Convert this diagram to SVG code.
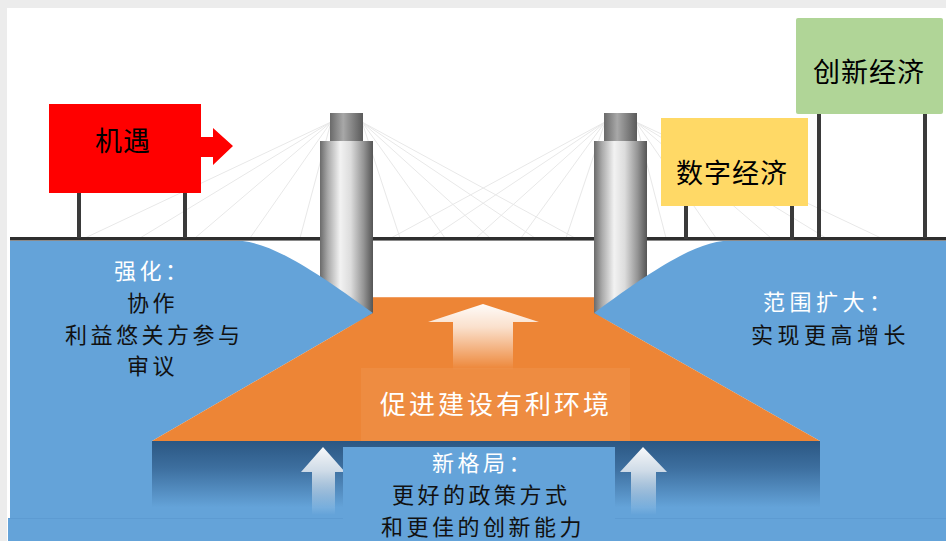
<svg xmlns="http://www.w3.org/2000/svg" width="946" height="541" viewBox="0 0 946 541">
  <style>
    .t { font-family: "Noto Sans CJK SC", "Noto Sans", sans-serif; dominant-baseline: central; }
    .sign { font-size: 27px; fill: #000; letter-spacing: 1px; }
    .lbl { font-size: 22px; letter-spacing: 3.5px; }
    .dark { fill: #111; }
    .light { fill: #fff; }
    .cable { stroke: #e8e8e8; stroke-width: 1; fill: none; }
    .post { fill: #3a3a3a; }
    .water { fill: #64a3d9; }
  </style>
  <defs>
    <linearGradient id="towerBody" x1="0" y1="0" x2="1" y2="0">
      <stop offset="0" stop-color="#6a6a6a"/>
      <stop offset="0.15" stop-color="#a9a9a9"/>
      <stop offset="0.38" stop-color="#f2f2f2"/>
      <stop offset="0.58" stop-color="#dcdcdc"/>
      <stop offset="0.82" stop-color="#959595"/>
      <stop offset="1" stop-color="#555"/>
    </linearGradient>
    <linearGradient id="towerCap" x1="0" y1="0" x2="1" y2="0">
      <stop offset="0" stop-color="#6a6a6a"/>
      <stop offset="0.4" stop-color="#a8a8a8"/>
      <stop offset="1" stop-color="#5a5a5a"/>
    </linearGradient>
    <linearGradient id="deepWater" x1="0" y1="0" x2="0" y2="1">
      <stop offset="0" stop-color="#2b5783"/>
      <stop offset="0.35" stop-color="#3d6f9f"/>
      <stop offset="0.85" stop-color="#64a3d9"/>
      <stop offset="1" stop-color="#64a3d9"/>
    </linearGradient>
    <linearGradient id="arrowFade" x1="0" y1="0" x2="0" y2="1">
      <stop offset="0" stop-color="#fff" stop-opacity="0.97"/>
      <stop offset="0.35" stop-color="#fff" stop-opacity="0.75"/>
      <stop offset="1" stop-color="#fff" stop-opacity="0"/>
    </linearGradient>
  </defs>

  <!-- page -->
  <rect x="0" y="0" width="946" height="541" fill="#ececec"/>
  <rect x="7" y="8" width="939" height="533" fill="#fff"/>

  <!-- stay cables -->
  <g id="cables">
    <path class="cable" d="M331,122 L85,238 M331,122 L140,238 M331,122 L195,238 M331,122 L250,238 M331,122 L300,238"/>
    <path class="cable" d="M362,122 L400,238 M362,122 L445,238 M362,122 L490,238 M362,122 L535,238 M362,122 L575,238"/>
    <path class="cable" d="M605,122 L391,238 M605,122 L431,238 M605,122 L476,238 M605,122 L521,238 M605,122 L566,238"/>
    <path class="cable" d="M636,122 L666,238 M636,122 L716,238 M636,122 L771,238 M636,122 L826,238 M636,122 L881,238"/>
  </g>

  <!-- towers -->
  <g id="tower-left">
    <rect x="330" y="113" width="33" height="29" fill="url(#towerCap)"/>
    <rect x="320" y="141" width="53" height="190" fill="url(#towerBody)"/>
  </g>
  <g id="tower-right">
    <rect x="604" y="113" width="33" height="29" fill="url(#towerCap)"/>
    <rect x="594" y="141" width="53" height="190" fill="url(#towerBody)"/>
  </g>

  <!-- river banks and basin -->
  <g id="ground">
    <path class="water" d="M10,240 H230 C265,240 300,260 373,313 L152,441 V518 H10 Z"/>
    <path class="water" d="M946,240 H736 C701,240 666,260 594,313 L820,441 V518 H946 Z"/>
    <rect x="152" y="441" width="668" height="78" fill="url(#deepWater)"/>
    <rect x="8" y="518" width="938" height="23" fill="#64a3d9"/>
    <rect x="8" y="518" width="938" height="1" fill="#5d9bd2"/>
    <path d="M152,441 L373,313 V297 H594 V313 L820,441 Z" fill="#ed8536"/>
    <rect x="373" y="297" width="221" height="1" fill="#f4b183" opacity="0.6"/>
  </g>

  <!-- bridge deck -->
  <g id="deck">
    <rect x="10" y="237" width="936" height="3" fill="#2e2e2e"/>
    <rect x="10" y="240" width="936" height="1" fill="#8a8a8a"/>
  </g>
  <!-- tower shafts stay in front of the deck -->
  <g id="tower-fronts">
    <rect x="320" y="141" width="53" height="100" fill="url(#towerBody)"/>
    <rect x="594" y="141" width="53" height="100" fill="url(#towerBody)"/>
  </g>

  <!-- signs on posts -->
  <g id="sign-jiyu">
    <rect class="post" x="77" y="190" width="4" height="48"/>
    <rect class="post" x="183" y="190" width="4" height="48"/>
    <rect x="49" y="104" width="152" height="89" fill="#ff0000"/>
    <path d="M200,137 H213 V128 L233,146 L213,165 V157 H200 Z" fill="#ff0000"/>
    <text class="t sign" x="95" y="139">机遇</text>
  </g>
  <g id="sign-digital">
    <rect class="post" x="684" y="204" width="4" height="35"/>
    <rect class="post" x="790" y="204" width="4" height="36"/>
    <rect x="661" y="118" width="147" height="88" fill="#ffd966"/>
    <text class="t sign" x="676" y="171">数字经济</text>
  </g>
  <g id="sign-innovation">
    <rect class="post" x="817" y="112" width="4" height="126"/>
    <rect class="post" x="923" y="112" width="4" height="126"/>
    <rect x="796" y="18" width="147" height="96" rx="2" fill="#b0d597"/>
    <text class="t sign" x="813" y="70">创新经济</text>
  </g>

  <!-- upward arrows -->
  <g id="connectors">
    <path d="M483,304 L539,322 H513 V370 H453 V322 H428 Z" fill="url(#arrowFade)"/>
    <path d="M323,447 L345,472 H335 V515 H312 V472 H301 Z" fill="url(#arrowFade)"/>
    <path d="M643,447 L667,472 H656 V515 H631 V472 H620 Z" fill="url(#arrowFade)"/>
  </g>

  <!-- labels -->
  <g id="label-left">
    <text class="t lbl light" x="114" y="269">强化：</text>
    <text class="t lbl dark" x="127" y="301">协作</text>
    <text class="t lbl dark" x="65" y="333">利益悠关方参与</text>
    <text class="t lbl dark" x="127" y="364">审议</text>
  </g>
  <g id="label-right">
    <text class="t lbl light" x="763" y="300" style="letter-spacing:4.5px">范围扩大：</text>
    <text class="t lbl dark" x="751" y="333" style="letter-spacing:4.5px">实现更高增长</text>
  </g>
  <g id="label-center">
    <rect x="361" y="368" width="269" height="73" fill="#fff" opacity="0.06"/>
    <text class="t light" x="380" y="402" style="font-size:26px;letter-spacing:3px">促进建设有利环境</text>
  </g>
  <g id="label-bottom">
    <rect x="343" y="447" width="272" height="94" fill="#64a3d9"/>
    <text class="t lbl light" x="432" y="461">新格局：</text>
    <text class="t lbl dark" x="392" y="493">更好的政策方式</text>
    <text class="t lbl dark" x="381" y="525">和更佳的创新能力</text>
  </g>
</svg>
